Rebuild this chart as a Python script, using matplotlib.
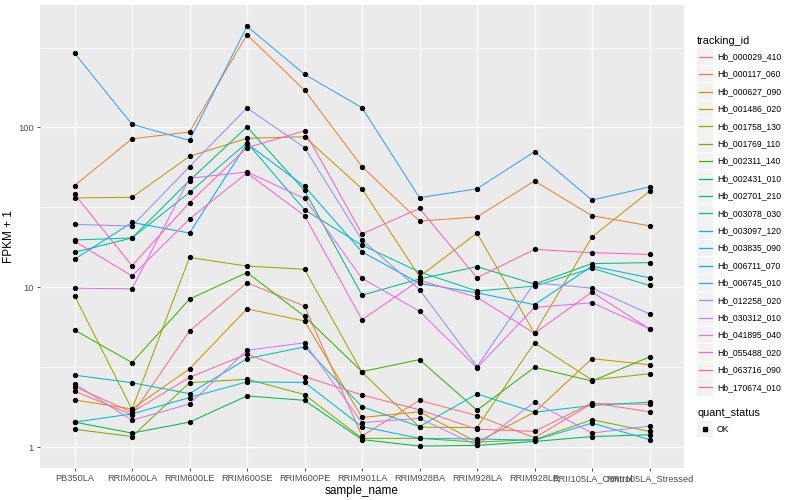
import numpy as np
import matplotlib
matplotlib.use("Agg")
import matplotlib.pyplot as plt
from matplotlib.patches import Rectangle
from matplotlib.lines import Line2D

plt.rcParams['font.family'] = ['Liberation Sans', 'DejaVu Sans']

# =============================
# Data (FPKM + 1)
# =============================
samples = ["PB350LA", "RRIM600LA", "RRIM600LE", "RRIM600SE", "RRIM600PE", "RRIM901LA",
           "RRIM928BA", "RRIM928LA", "RRIM928LE", "RRII105LA_Control", "RRII105LA_Stressed"]

tracking_ids = ["Hb_000029_410", "Hb_000117_060", "Hb_000627_090", "Hb_001486_020",
                "Hb_001758_130", "Hb_001769_110", "Hb_002311_140", "Hb_002431_010",
                "Hb_002701_210", "Hb_003078_030", "Hb_003097_120", "Hb_003835_090",
                "Hb_006711_070", "Hb_006745_010", "Hb_012258_020", "Hb_030312_010",
                "Hb_041895_040", "Hb_055488_020", "Hb_063716_090", "Hb_170674_010"]

hb_000029_410 = [2.25, 1.60, 5.35, 10.7, 7.65, 1.18, 1.97, 1.58, 1.15, 1.88, 1.86]
hb_000117_060 = [43.3, 85, 93.7, 380, 171, 56.9, 26.0, 27.6, 46.3, 28.1, 24.3]
hb_000627_090 = [1.98, 1.74, 3.1, 7.35, 6.17, 1.54, 1.67, 1.08, 1.66, 3.59, 3.29]
hb_001486_020 = [36.3, 36.6, 66, 85.6, 87.5, 41.4, 11.7, 21.9, 5.17, 20.7, 39.9]
hb_001758_130 = [8.9, 1.73, 15.4, 13.6, 13.0, 2.95, 1.34, 1.33, 4.51, 2.64, 2.89]
hb_001769_110 = [1.30, 1.17, 2.54, 2.67, 2.14, 1.14, 1.14, 1.08, 1.12, 1.49, 1.26]
hb_002311_140 = [5.42, 3.39, 8.46, 12.4, 6.6, 2.98, 3.54, 1.71, 3.17, 2.6, 3.68]
hb_002431_010 = [1.44, 1.23, 1.44, 2.1, 1.97, 1.12, 1.02, 1.03, 1.09, 1.17, 1.2]
hb_002701_210 = [16.6, 20.4, 46.6, 101, 40.4, 8.95, 11.3, 13.5, 10.5, 14.1, 14.3]
hb_003078_030 = [19.8, 20.4, 39.3, 80.4, 30.6, 18.4, 12.5, 9.5, 10.2, 13.2, 10.3]
hb_003097_120 = [2.83, 2.54, 2.17, 3.59, 4.25, 1.8, 1.35, 2.16, 1.66, 1.83, 1.92]
hb_003835_090 = [1.44, 1.62, 2.05, 2.57, 2.55, 1.35, 1.14, 1.13, 1.11, 1.42, 1.12]
hb_006711_070 = [15.0, 25.5, 21.9, 79.3, 42.9, 16.7, 10.6, 9.27, 7.8, 13.6, 11.5]
hb_006745_010 = [292, 104.7, 83, 429, 215, 133, 36.4, 41.4, 70.6, 35.2, 42.5]
hb_012258_020 = [24.8, 24.2, 56.9, 132.5, 74.9, 19.8, 9.7, 3.2, 10.7, 9.9, 6.83]
hb_030312_010 = [2.5, 1.48, 1.87, 4.05, 4.51, 1.43, 1.52, 1.03, 1.92, 1.23, 1.36]
hb_041895_040 = [9.9, 9.8, 48.2, 52.7, 36.0, 11.4, 7.1, 3.15, 7.5, 8.03, 5.53]
hb_055488_020 = [19.5, 11.8, 26.8, 52.0, 28.1, 6.29, 11.1, 8.68, 5.17, 9.36, 5.5]
hb_063716_090 = [38.3, 13.7, 33.9, 74.9, 95.2, 21.6, 31.2, 11.5, 17.3, 16.5, 16.1]
hb_170674_010 = [2.4, 1.66, 2.74, 3.84, 2.77, 2.13, 1.72, 1.3, 1.26, 1.9, 1.67]

series = [hb_000029_410, hb_000117_060, hb_000627_090, hb_001486_020, hb_001758_130,
          hb_001769_110, hb_002311_140, hb_002431_010, hb_002701_210, hb_003078_030,
          hb_003097_120, hb_003835_090, hb_006711_070, hb_006745_010, hb_012258_020,
          hb_030312_010, hb_041895_040, hb_055488_020, hb_063716_090, hb_170674_010]

# ggplot2 hue_pal() for 20 levels
colors = ["#F8766D", "#EA8331", "#D89000", "#C09B00", "#A3A500", "#7CAE00", "#39B600",
          "#00BB4E", "#00BF7D", "#00C1A3", "#00BFC4", "#00BAE0", "#00B0F6", "#35A2FF",
          "#9590FF", "#C77CFF", "#E76BF3", "#FA62DB", "#FF62BC", "#FF6C91"]

# =============================
# Plot
# =============================
W, H = 800, 500
fig = plt.figure(figsize=(8, 5), dpi=100)
ax = fig.add_axes([40 / W, 32 / H, 644 / W, 463 / H])
ax.set_facecolor("#EBEBEB")

x = np.arange(len(samples))
for vals, col in zip(series, colors):
    ax.plot(x, vals, color=col, lw=0.75, zorder=3)
for vals in series:
    ax.plot(x, vals, ls="none", marker="o", ms=2.8, color="black", zorder=4)

ax.set_yscale("log")
ax.set_ylim(0.744, 583)
ax.set_xlim(-0.6, len(samples) - 0.4)
ax.set_xticks(x)
ax.set_xticklabels(samples)
ax.set_yticks([1, 10, 100])
ax.set_yticklabels(["1", "10", "100"])
ax.yaxis.set_minor_locator(matplotlib.ticker.FixedLocator([10 ** -0.5, 10 ** 0.5, 10 ** 1.5, 10 ** 2.5]))
ax.yaxis.set_minor_formatter(matplotlib.ticker.NullFormatter())

ax.grid(True, which="major", color="white", lw=0.9, zorder=0)
ax.grid(True, which="minor", axis="y", color="white", lw=0.45, zorder=0)
ax.set_axisbelow(True)
for s in ax.spines.values():
    s.set_visible(False)
ax.tick_params(which="major", length=2.5, width=0.6, color="#333333",
               labelsize=6.7, labelcolor="#4D4D4D", pad=2)
ax.tick_params(which="minor", length=0)

ax.set_xlabel("sample_name", fontsize=8.5, labelpad=1)
ax.set_ylabel("FPKM + 1", fontsize=8.5, labelpad=2)

# =============================
# Legend (drawn by hand, ggplot style)
# =============================
def fx(px):
    return px / W

def fy(py):
    return 1 - py / H

fig.text(fx(697), fy(40.5), "tracking_id", fontsize=7.8, va="center", ha="left")
step = 17.4
for i, (tid, col) in enumerate(zip(tracking_ids, colors)):
    yc = 56.7 + i * step
    fig.add_artist(Rectangle((fx(697), fy(yc + 8.3)), 16 / W, 16.6 / H,
                             transform=fig.transFigure, facecolor="#F2F2F2", edgecolor="none"))
    fig.add_artist(Line2D([fx(698.5), fx(711.5)], [fy(yc), fy(yc)],
                          transform=fig.transFigure, color=col, lw=0.9))
    fig.text(fx(717), fy(yc), tid, fontsize=6.2, va="center", ha="left")

fig.text(fx(697), fy(412.5), "quant_status", fontsize=7.8, va="center", ha="left")
fig.add_artist(Rectangle((fx(697), fy(429 + 8.3)), 16 / W, 16.6 / H,
                         transform=fig.transFigure, facecolor="#F2F2F2", edgecolor="none"))
fig.add_artist(Line2D([fx(705)], [fy(429)], transform=fig.transFigure, ls="none",
                      marker="s", ms=2.4, color="black"))
fig.text(fx(717), fy(429), "OK", fontsize=6.2, va="center", ha="left")

fig.savefig("out.png", dpi=100)
